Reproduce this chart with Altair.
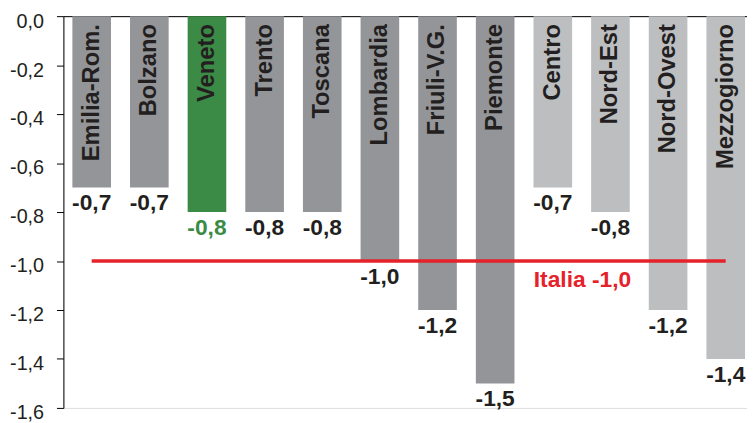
import altair as alt
import pandas as pd

regions = ["Emilia-Rom.", "Bolzano", "Veneto", "Trento", "Toscana", "Lombardia",
           "Friuli-V.G.", "Piemonte", "Centro", "Nord-Est", "Nord-Ovest", "Mezzogiorno"]
values = [-0.7, -0.7, -0.8, -0.8, -0.8, -1.0, -1.2, -1.5, -0.7, -0.8, -1.2, -1.4]
kind = ["regione", "regione", "veneto", "regione", "regione", "regione",
        "regione", "regione", "ripartizione", "ripartizione", "ripartizione", "ripartizione"]
italia = -1.0
y_ticks = [0.0, -0.2, -0.4, -0.6, -0.8, -1.0, -1.2, -1.4, -1.6]

df = pd.DataFrame({"regione": regions, "valore": values, "tipo": kind})
df["etichetta"] = [f"{v:.1f}".replace(".", ",") for v in values]
df["italia"] = italia

ita = pd.DataFrame({"regione": ["Centro"], "valore": [italia],
                    "testo": ["Italia " + f"{italia:.1f}".replace(".", ",")]})

FONT = "Liberation Sans"
DARK = "#231f20"

x_enc = alt.X("regione:N", sort=None,
              scale=alt.Scale(domain=regions, paddingInner=0.33, paddingOuter=0.095, align=0.82),
              axis=alt.Axis(orient="top", labels=False, ticks=False, title=None,
                            domainColor="black", domainWidth=1))
y_scale = alt.Scale(domain=[-1.6, 0], nice=False, zero=False)

bars = alt.Chart(df).mark_bar().encode(
    x=x_enc,
    y=alt.Y("valore:Q", scale=y_scale,
            axis=alt.Axis(values=y_ticks, tickSize=7, labelPadding=13, labelFontSize=20,
                          labelFont=FONT, labelColor=DARK, domainColor="black",
                          tickColor="black", grid=False, title=None, labelOffset=5,
                          labelExpr="replace(replace(format(datum.value, '.1f'), '.', ','), '\u2212', '-')")),
    y2=alt.datum(0),
    color=alt.Color("tipo:N", legend=None,
                    scale=alt.Scale(domain=["regione", "veneto", "ripartizione"],
                                    range=["#939598", "#3b8a46", "#bcbec0"])),
)

names = alt.Chart(df).mark_text(angle=270, align="right", baseline="middle", dx=-8,
                                font=FONT, fontWeight="bold", fontSize=24, color=DARK).encode(
    x=alt.X("regione:N", sort=None),
    y=alt.value(0),
    text="regione:N",
)

vals = alt.Chart(df).mark_text(baseline="top", dy=5, font=FONT, fontWeight="bold",
                               fontSize=23).encode(
    x=alt.X("regione:N", sort=None),
    y=alt.Y("valore:Q", scale=y_scale),
    text="etichetta:N",
    color=alt.Color("tipo:N", legend=None,
                    scale=alt.Scale(domain=["regione", "veneto", "ripartizione"],
                                    range=[DARK, "#3b8a46", DARK])),
)

line = alt.Chart(df).mark_line(color="#e5222a", strokeWidth=3.5).encode(
    x=alt.X("regione:N", sort=None),
    y=alt.Y("italia:Q", scale=y_scale),
)

ita_text = alt.Chart(ita).mark_text(baseline="middle", align="center", dx=30, dy=19,
                                    font=FONT, fontWeight="bold", fontSize=23,
                                    color="#e5222a").encode(
    x=alt.X("regione:N", sort=None),
    y=alt.Y("valore:Q", scale=y_scale),
    text="testo:N",
)

chart = alt.layer(bars, names, vals, line, ita_text).resolve_scale(
    color="independent"
).properties(
    width=691, height=396,
    autosize=alt.AutoSizeParams(type="none"),
    padding={"left": 56, "top": 6, "right": 0, "bottom": 13},
).configure_view(stroke=None).configure(background="white")

chart.save("out.html", embed_options={"renderer": "svg", "actions": False})
